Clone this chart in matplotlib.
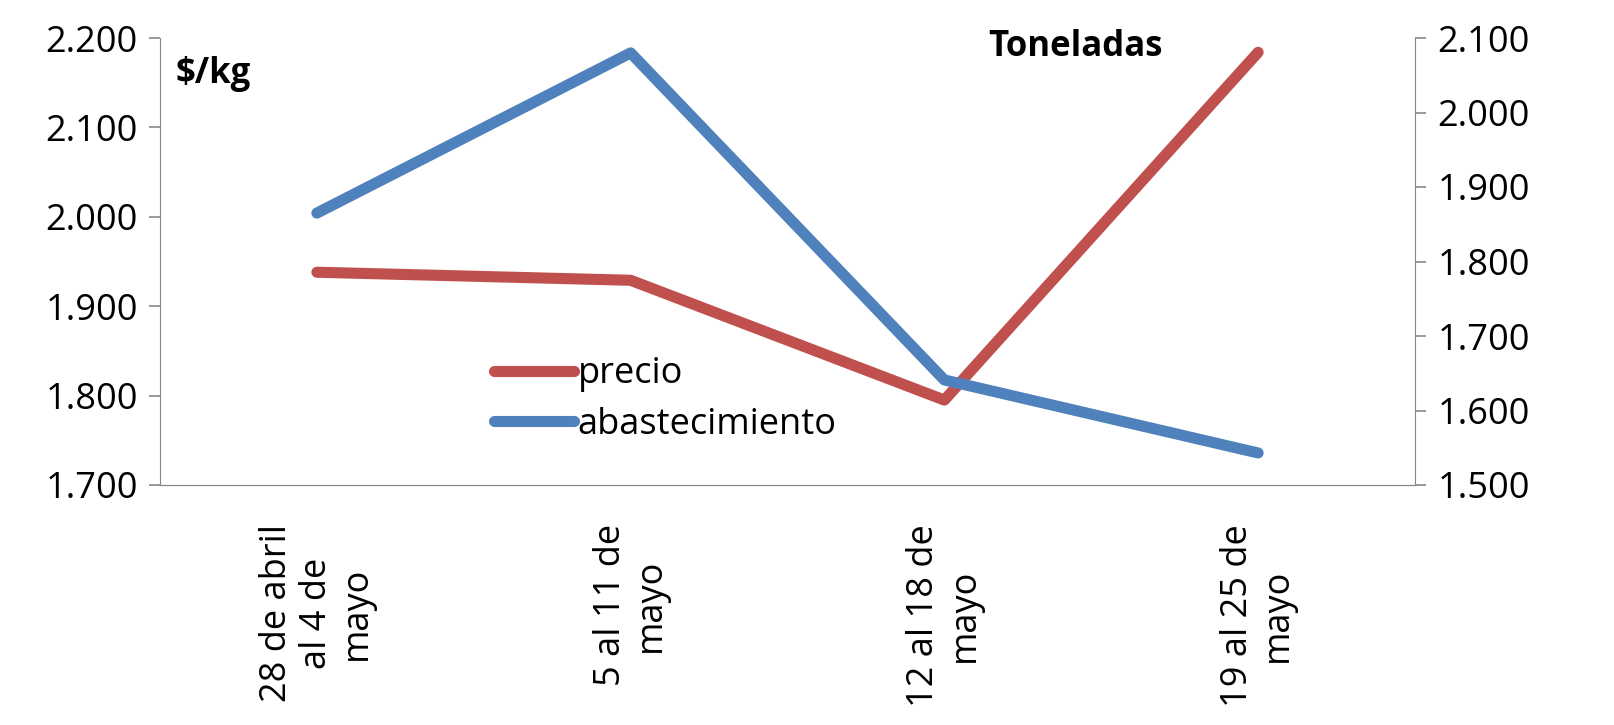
import matplotlib
matplotlib.use("Agg")
import matplotlib.pyplot as plt
from matplotlib.ticker import FuncFormatter

categories = ["28 de abril\nal 4 de\nmayo", "5 al 11 de\nmayo", "12 al 18 de\nmayo", "19 al 25 de\nmayo"]
precio = [1938, 1929, 1795, 2184]
abastecimiento = [1865, 2080, 1641, 1543]

plt.rcParams['font.family'] = ['Open Sans', 'DejaVu Sans']
fig = plt.figure(figsize=(16.15, 7.25), dpi=100)
ax = fig.add_axes([160/1615, 1-485/725, (1415-160)/1615, (485-38)/725])
ax2 = ax.twinx()
x = list(range(len(categories)))
l1, = ax.plot(x, precio, color='#C0504D', lw=8, solid_capstyle='round', label='precio')
l2, = ax2.plot(x, abastecimiento, color='#4F81BD', lw=8, solid_capstyle='round', label='abastecimiento')
ax.set_xlim(-0.5, 3.5)
ax.set_ylim(1700, 2200)
ax2.set_ylim(1500, 2100)
ax.set_yticks(range(1700, 2201, 100))
ax2.set_yticks(range(1500, 2101, 100))
fmt = FuncFormatter(lambda v, p: f"{int(v):,}".replace(",", "."))
ax.yaxis.set_major_formatter(fmt)
ax2.yaxis.set_major_formatter(fmt)
for a in (ax, ax2):
    a.spines['top'].set_visible(False)
    for s in a.spines.values():
        s.set_color('#888888')
    a.tick_params(axis='y', labelsize=26, length=8, color='#888888', width=1.2, pad=8)
ax.spines['right'].set_visible(False)
ax2.spines['left'].set_visible(False)
ax.set_xticks(x)
ax.set_xticklabels(categories, rotation=90, fontsize=26, ha='center', va='top', multialignment='center', linespacing=1.15)
ax.tick_params(axis='x', length=0, pad=28)
ax.text(0.012, 0.92, "$/kg", transform=ax.transAxes, fontsize=25, fontweight='bold', va='center')
ax.text(0.66, 0.98, "Toneladas", transform=ax.transAxes, fontsize=25, fontweight='bold', va='center')
ax.legend([l1, l2], ['precio', 'abastecimiento'], loc='upper left', bbox_to_anchor=(0.255, 0.32),
          frameon=False, fontsize=26, handlelength=2.2, handletextpad=0.1, borderaxespad=0, labelspacing=0.4)
fig.savefig("out.png", dpi=100)
